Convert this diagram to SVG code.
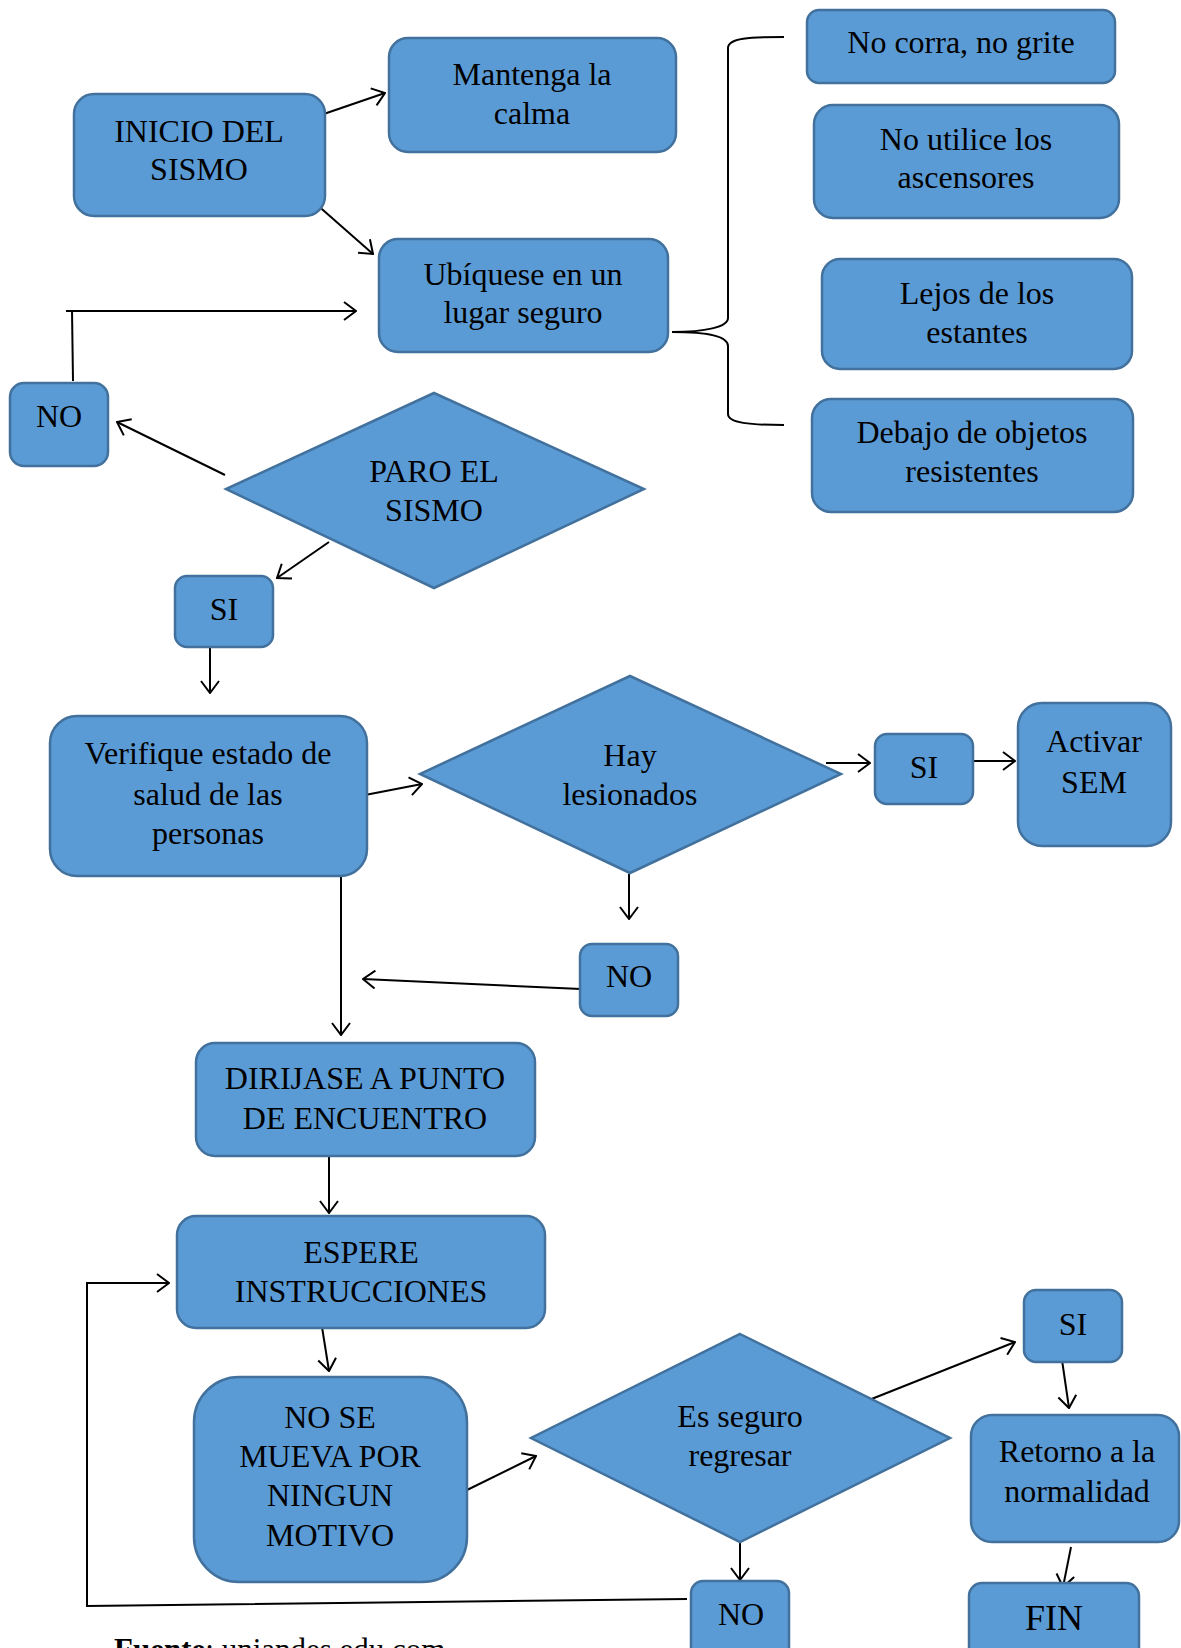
<svg xmlns="http://www.w3.org/2000/svg" width="1181" height="1648" viewBox="0 0 1181 1648">
<style>
.n{fill:#5B9BD5;stroke:#41719C;stroke-width:2.5}
.t{font-family:"Liberation Serif","Times New Roman",serif;font-size:32px;fill:#000;text-anchor:middle}
.c{fill:none;stroke:#000;stroke-width:2}
.a{fill:none;stroke:#000;stroke-width:2;marker-end:url(#ah)}
</style>
<defs>
<marker id="ah" markerUnits="userSpaceOnUse" viewBox="0 0 14 20" refX="13" refY="10" markerWidth="14" markerHeight="20" orient="auto">
<path d="M1,1 L13,10 L1,19" fill="none" stroke="#000" stroke-width="2"/>
</marker>
</defs>
<rect width="1181" height="1648" fill="#fff"/>
<g id="connectors">
<line class="a" x1="315" y1="117" x2="385" y2="93"/>
<line class="a" x1="315" y1="203" x2="373" y2="254"/>
<polyline class="c" points="73,381 72,310"/>
<line class="a" x1="66" y1="311" x2="356" y2="311"/>
<line class="a" x1="225" y1="475" x2="117" y2="422"/>
<path class="c" d="M784,37 C750,37 728,38 728,48 L728,318 C728,327 705,332 672,332 C705,332 728,336 728,346 L728,414 C728,423 750,425 784,425"/>
<line class="a" x1="329" y1="542" x2="277" y2="578"/>
<line class="a" x1="210" y1="648" x2="210" y2="693"/>
<line class="a" x1="365" y1="795" x2="422" y2="784"/>
<line class="a" x1="826" y1="763" x2="870" y2="763"/>
<line class="a" x1="973" y1="761" x2="1015" y2="761"/>
<line class="a" x1="629" y1="874" x2="629" y2="919"/>
<line class="a" x1="581" y1="989" x2="363" y2="979"/>
<line class="a" x1="341" y1="867" x2="341" y2="1035"/>
<line class="a" x1="329" y1="1149" x2="329" y2="1213"/>
<line class="a" x1="322" y1="1327" x2="329" y2="1371"/>
<line class="a" x1="465" y1="1491" x2="536" y2="1456"/>
<line class="a" x1="864" y1="1402" x2="1015" y2="1342"/>
<line class="a" x1="1062" y1="1360" x2="1069" y2="1408"/>
<line class="a" x1="1071" y1="1547" x2="1063" y2="1587"/>
<line class="a" x1="740" y1="1535" x2="740" y2="1580"/>
<polyline class="c" points="687,1599 87,1606 87,1283"/>
<line class="a" x1="86" y1="1283" x2="169" y2="1283"/>
</g>
<g id="inicio"><rect class="n" x="74" y="94" width="251" height="122" rx="20"/><text class="t" x="199" y="142">INICIO DEL</text><text class="t" x="199" y="180">SISMO</text></g>
<g id="mantenga"><rect class="n" x="389" y="38" width="287" height="114" rx="19"/><text class="t" x="532" y="85">Mantenga la</text><text class="t" x="532" y="124">calma</text></g>
<g id="ubiquese"><rect class="n" x="379" y="239" width="289" height="113" rx="19"/><text class="t" x="523" y="285">Ubíquese en un</text><text class="t" x="523" y="323">lugar seguro</text></g>
<g id="no1"><rect class="n" x="10" y="383" width="98" height="83" rx="14"/><text class="t" x="59" y="427">NO</text></g>
<g id="nocorra"><rect class="n" x="807" y="10" width="308" height="73" rx="12"/><text class="t" x="961" y="53">No corra, no grite</text></g>
<g id="noutilice"><rect class="n" x="814" y="105" width="305" height="113" rx="19"/><text class="t" x="966" y="150">No utilice los</text><text class="t" x="966" y="188">ascensores</text></g>
<g id="lejos"><rect class="n" x="822" y="259" width="310" height="110" rx="18"/><text class="t" x="977" y="304">Lejos de los</text><text class="t" x="977" y="343">estantes</text></g>
<g id="debajo"><rect class="n" x="812" y="399" width="321" height="113" rx="19"/><text class="t" x="972" y="443">Debajo de objetos</text><text class="t" x="972" y="482">resistentes</text></g>
<g id="paro"><polygon class="n" points="434,393 644,489 434,588 226,489"/><text class="t" x="434" y="482">PARO EL</text><text class="t" x="434" y="521">SISMO</text></g>
<g id="si1"><rect class="n" x="175" y="576" width="98" height="71" rx="12"/><text class="t" x="224" y="620">SI</text></g>
<g id="verifique"><rect class="n" x="50" y="716" width="317" height="160" rx="27"/><text class="t" x="208" y="764">Verifique estado de</text><text class="t" x="208" y="805">salud de las</text><text class="t" x="208" y="844">personas</text></g>
<g id="hay"><polygon class="n" points="630,676 841,774 630,873 420,774"/><text class="t" x="630" y="766">Hay</text><text class="t" x="630" y="805">lesionados</text></g>
<g id="si2"><rect class="n" x="875" y="734" width="98" height="70" rx="12"/><text class="t" x="924" y="778">SI</text></g>
<g id="activar"><rect class="n" x="1018" y="703" width="153" height="143" rx="24"/><text class="t" x="1094" y="752">Activar</text><text class="t" x="1094" y="793">SEM</text></g>
<g id="no2"><rect class="n" x="580" y="944" width="98" height="72" rx="12"/><text class="t" x="629" y="987">NO</text></g>
<g id="dirijase"><rect class="n" x="196" y="1043" width="339" height="113" rx="19"/><text class="t" x="365" y="1089">DIRIJASE A PUNTO</text><text class="t" x="365" y="1129">DE ENCUENTRO</text></g>
<g id="espere"><rect class="n" x="177" y="1216" width="368" height="112" rx="19"/><text class="t" x="361" y="1263">ESPERE</text><text class="t" x="361" y="1302">INSTRUCCIONES</text></g>
<g id="nosemueva"><rect class="n" x="194" y="1377" width="273" height="205" rx="45"/><text class="t" x="330" y="1428">NO SE</text><text class="t" x="330" y="1467">MUEVA POR</text><text class="t" x="330" y="1506">NINGUN</text><text class="t" x="330" y="1546">MOTIVO</text></g>
<g id="esseguro"><polygon class="n" points="740,1334 950,1438 740,1542 531,1438"/><text class="t" x="740" y="1427">Es seguro</text><text class="t" x="740" y="1466">regresar</text></g>
<g id="si3"><rect class="n" x="1024" y="1290" width="98" height="72" rx="12"/><text class="t" x="1073" y="1335">SI</text></g>
<g id="retorno"><rect class="n" x="971" y="1415" width="208" height="127" rx="21"/><text class="t" x="1077" y="1462">Retorno a la</text><text class="t" x="1077" y="1502">normalidad</text></g>
<g id="no3"><rect class="n" x="691" y="1581" width="98" height="82" rx="12"/><text class="t" x="741" y="1625">NO</text></g>
<g id="fin"><rect class="n" x="969" y="1583" width="170" height="82" rx="13"/><text class="t" x="1054" y="1630" style="font-size:36px">FIN</text></g>
<text x="114" y="1660" style="font-family:'Liberation Serif','Times New Roman',serif;font-size:31px;fill:#000"><tspan font-weight="bold">Fuente</tspan>: uniandes.edu.com</text>
</svg>
